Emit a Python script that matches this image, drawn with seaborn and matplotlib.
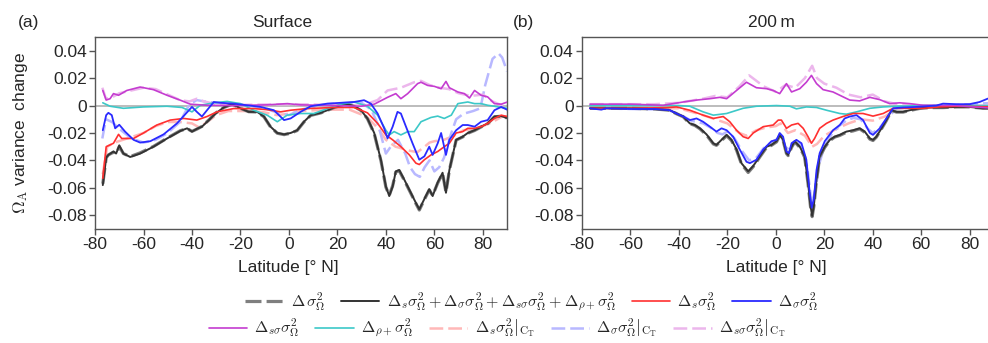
import matplotlib
matplotlib.use("Agg")
import matplotlib.pyplot as plt
import seaborn as sns

# ---------------- Panel (a): Surface ----------------
a_lat_sum = [-76.8, -75.4, -74.5, -72.4, -71.3, -70, -68.3, -65.5, -61.4, -55.9, -50.3, -44.8, -42, -40, -38, -35.9, -33, -30.3, -26.9, -23.4, -20, -16.6, -13.1, -10.3, -7.6, -4.8, -2, 0.7, 3.4, 6.2, 9, 13.1, 15.9, 18.6, 21.4, 24.1, 26.9, 29.7, 32.4, 35.2, 38, 40, 41.4, 42.8, 44.1, 45.5, 47.6, 50.3, 52.4, 53.8, 55.9, 57.9, 59.3, 61.4, 63.4, 64.8, 66.2, 69, 71.7, 73.8, 76.6, 79.3, 82, 84.8, 87.6, 90]
a_sum = [-0.058, -0.038, -0.036, -0.0335, -0.035, -0.029, -0.035, -0.0375, -0.035, -0.030, -0.024, -0.0185, -0.0166, -0.019, -0.017, -0.0154, -0.0106, -0.0058, -0.0014, 0.001, -0.002, -0.0046, -0.0046, -0.008, -0.0154, -0.020, -0.021, -0.020, -0.018, -0.0118, -0.007, -0.0053, -0.0034, -0.0014, 0.0002, 0.001, -0.0005, -0.0034, -0.0094, -0.020, -0.040, -0.059, -0.066, -0.059, -0.048, -0.047, -0.054, -0.0636, -0.071, -0.0757, -0.068, -0.061, -0.066, -0.056, -0.049, -0.0636, -0.047, -0.025, -0.0227, -0.020, -0.018, -0.0154, -0.013, -0.008, -0.0077, -0.009]
a_total = [-0.057, -0.038, -0.036, -0.034, -0.035, -0.030, -0.035, -0.0372, -0.0345, -0.0298, -0.0238, -0.0183, -0.0168, -0.0188, -0.0172, -0.0152, -0.0104, -0.0056, -0.0015, 0.001, -0.002, -0.0045, -0.0047, -0.0082, -0.0156, -0.0202, -0.0212, -0.0202, -0.0182, -0.0120, -0.0072, -0.0054, -0.0035, -0.0015, 0.0001, 0.0009, -0.0006, -0.0036, -0.0096, -0.0205, -0.0405, -0.0595, -0.0655, -0.0585, -0.0485, -0.0475, -0.0545, -0.064, -0.0715, -0.0762, -0.0685, -0.0615, -0.0655, -0.0565, -0.0495, -0.0632, -0.0472, -0.0252, -0.0229, -0.0202, -0.0182, -0.0156, -0.0132, -0.0082, -0.0078, -0.009]

a_lat_s = [-76.8, -75.4, -72.4, -70.3, -69, -64.1, -60, -54.5, -49, -43.4, -38, -33.8, -29.7, -22.8, -14.5, -9, -3.4, 0.7, 7.6, 18.6, 26.9, 32.4, 36.6, 40, 42.8, 46.2, 49.7, 52.4, 53.8, 55.9, 58.6, 61.4, 64.1, 66.2, 69, 71.7, 73.8, 76.6, 79.3, 82, 84.8, 87.6, 90]
a_s = [-0.053, -0.030, -0.0275, -0.021, -0.024, -0.024, -0.020, -0.0142, -0.0106, -0.0094, -0.0106, -0.008, -0.0046, -0.0022, -0.0022, -0.003, -0.0046, -0.0034, -0.0022, -0.0014, -0.0014, -0.0053, -0.013, -0.0214, -0.025, -0.030, -0.036, -0.042, -0.043, -0.0395, -0.036, -0.0335, -0.030, -0.0275, -0.020, -0.019, -0.0166, -0.0166, -0.0154, -0.013, -0.0094, -0.007, -0.008]

a_lat_sig = [-76.8, -75.4, -74.5, -73.1, -71.7, -70, -67.6, -64.1, -61.4, -57.2, -51.7, -46.2, -40, -38, -35.9, -33.8, -31, -28.3, -22.8, -17.2, -11.7, -6.2, -2, 0.7, 4.8, 9, 15.9, 21.4, 26.9, 31, 33.8, 36.6, 39.3, 40.7, 42.8, 44.8, 46.2, 48.3, 51, 53.8, 55.9, 57.9, 59.3, 61.4, 62.8, 64.8, 66.2, 69, 71.7, 73.8, 76.6, 79.3, 82, 84.8, 87.6, 90]
a_sig = [-0.018, -0.007, -0.0053, -0.007, -0.0166, -0.014, -0.019, -0.025, -0.027, -0.026, -0.021, -0.013, -0.001, -0.0046, -0.008, -0.0034, 0.0026, 0.002, 0.0014, 0.0002, -0.001, -0.0034, -0.0106, -0.0094, -0.0046, -0.0005, 0.0014, 0.002, 0.0026, 0.0039, 0.0014, -0.0058, -0.0166, -0.024, -0.0154, -0.0046, -0.0058, -0.0154, -0.0275, -0.0395, -0.037, -0.030, -0.036, -0.0275, -0.020, -0.036, -0.025, -0.018, -0.0142, -0.0142, -0.0154, -0.0118, -0.0106, -0.0034, -0.001, -0.003]

a_lat_ssig = [-76.8, -75.4, -73.8, -72.4, -70.3, -66.9, -61.4, -55.9, -50.3, -44.8, -40.7, -33.8, -22.8, -9, -0.7, 4.8, 18.6, 29.7, 35.2, 40.7, 44.1, 46.2, 49, 53.1, 54.5, 57.2, 60, 62.8, 64.8, 66.2, 69.7, 72.4, 74.5, 76.6, 79.3, 82, 84.8, 87.6, 90]
a_ssig = [0.011, 0.004, 0.005, 0.0087, 0.0075, 0.011, 0.0135, 0.0116, 0.0075, 0.0039, 0.001, 0.0002, 0.0, 0.0005, 0.0014, 0.0005, 0.0, -0.0005, 0.001, 0.006, 0.0087, 0.005, 0.0087, 0.016, 0.017, 0.0147, 0.014, 0.0123, 0.0176, 0.013, 0.0099, 0.0087, 0.0055, 0.011, 0.0075, 0.0063, 0.0014, 0.001, 0.0025]

a_lat_rho = [-76.8, -73.8, -68.3, -60, -50.3, -44.1, -40, -36.6, -31, -25.5, -20, -14.5, -9, -4.8, -0.7, 4.8, 10.3, 15.9, 21.4, 26.9, 32.4, 36.6, 40, 41.4, 43.4, 46.2, 49, 51.7, 54.5, 58.6, 61.4, 64.1, 67, 69.7, 73.8, 76.6, 79.3, 82, 84.8, 87.6, 90]
a_rho = [0.002, -0.0005, -0.002, -0.001, -0.0005, -0.0014, -0.0046, 0.0002, 0.002, 0.003, 0.0014, -0.0034, -0.007, -0.0118, -0.007, -0.0058, -0.0058, -0.0022, 0.001, 0.0026, -0.0005, -0.007, -0.018, -0.0214, -0.019, -0.0214, -0.019, -0.019, -0.0118, -0.0087, -0.0077, -0.0094, -0.007, 0.0014, 0.0026, 0.0014, 0.0014, 0.0002, -0.0005, -0.0014, -0.002]

a_lat_s_ct = [-76.8, -75, -72, -65, -60, -55, -50, -45, -40, -37, -33, -30, -25, -15, -10, -5, 0, 5, 15, 25, 32, 37, 40, 44, 48, 50, 53, 56, 58, 60, 64, 68, 72, 76, 80, 84, 88, 90]
a_s_ct = [-0.05, -0.03, -0.027, -0.023, -0.02, -0.015, -0.012, -0.012, -0.013, -0.016, -0.011, -0.007, -0.004, -0.004, -0.005, -0.007, -0.006, -0.004, -0.003, -0.003, -0.008, -0.017, -0.025, -0.030, -0.032, -0.033, -0.034, -0.030, -0.027, -0.026, -0.025, -0.022, -0.018, -0.017, -0.015, -0.012, -0.008, -0.008]

a_lat_sig_ct = [-77, -75.5, -73, -70, -65, -60, -55, -50, -45, -41, -38, -35, -30, -20, -10, -5, 0, 5, 15, 25, 30, 34, 37, 40, 42, 45, 48, 50, 52, 54, 56, 58, 60, 62, 64, 67, 69, 72, 76, 79, 81, 84, 86.5, 88, 90]
a_sig_ct = [-0.024, -0.01, -0.012, -0.017, -0.024, -0.027, -0.025, -0.02, -0.012, 0.001, 0.004, 0.003, 0.002, 0.001, -0.002, -0.005, -0.007, -0.003, 0.001, 0.002, 0.002, -0.003, -0.015, -0.035, -0.03, -0.025, -0.035, -0.045, -0.05, -0.052, -0.045, -0.04, -0.048, -0.045, -0.038, -0.02, -0.01, -0.006, -0.004, -0.002, 0.015, 0.034, 0.038, 0.035, 0.025]

a_lat_ssig_ct = [-77, -75.5, -73, -70, -65, -60, -55, -50, -45, -41, -38, -35, -30, -20, 0, 20, 30, 36.6, 40.7, 46.2, 51.7, 54.5, 58, 62, 66, 70, 75, 80, 84, 88, 90]
a_ssig_ct = [0.013, 0.005, 0.006, 0.009, 0.011, 0.013, 0.012, 0.008, 0.004, 0.003, 0.005, 0.003, 0.001, 0.0005, 0.001, 0.0005, 0.0, 0.004, 0.011, 0.013, 0.017, 0.018, 0.015, 0.013, 0.012, 0.009, 0.007, 0.008, 0.003, 0.0, -0.002]

# ---------------- Panel (b): 200 m ----------------
b_lat_sum = [-76.7, -70, -60, -50, -46.5, -43.7, -41, -38.2, -35.5, -33.4, -31.3, -28.6, -25.8, -24.5, -22.4, -20.3, -18.3, -16.2, -14.2, -11.4, -9.3, -6.6, -3.8, -1.8, 0.3, 1.6, 3, 4.4, 5.1, 6.5, 7.8, 9.9, 11.9, 13.3, 14.3, 15, 15.7, 16.8, 18.1, 20.2, 22.3, 24.3, 26.4, 29.1, 31.9, 34.6, 36.7, 38.8, 40.1, 41.5, 43.6, 45.6, 47.7, 49.8, 52.5, 55.3, 59.4, 63.5, 69, 74.5, 80, 85.5, 90]
b_sum = [-0.002, -0.002, -0.002, -0.0025, -0.003, -0.0034, -0.0058, -0.008, -0.013, -0.0142, -0.0166, -0.021, -0.0275, -0.0287, -0.025, -0.0214, -0.025, -0.032, -0.042, -0.048, -0.044, -0.037, -0.030, -0.0287, -0.026, -0.0214, -0.025, -0.0347, -0.036, -0.030, -0.026, -0.030, -0.037, -0.0564, -0.073, -0.0805, -0.073, -0.054, -0.037, -0.030, -0.025, -0.0227, -0.0214, -0.019, -0.018, -0.0166, -0.019, -0.024, -0.025, -0.0227, -0.0166, -0.0106, -0.0034, -0.0046, -0.0046, -0.0034, -0.002, -0.0014, -0.0014, -0.001, -0.001, -0.002, -0.002]
b_total = [-0.002, -0.002, -0.002, -0.0025, -0.003, -0.0035, -0.006, -0.0082, -0.0132, -0.0145, -0.017, -0.0215, -0.028, -0.029, -0.0255, -0.022, -0.0255, -0.0325, -0.0425, -0.0488, -0.0445, -0.0375, -0.0305, -0.029, -0.0265, -0.022, -0.0255, -0.035, -0.0365, -0.0305, -0.0265, -0.0305, -0.0375, -0.057, -0.0735, -0.081, -0.0735, -0.0545, -0.0375, -0.0305, -0.0255, -0.023, -0.0218, -0.0195, -0.0185, -0.017, -0.0195, -0.0245, -0.0255, -0.023, -0.017, -0.011, -0.0036, -0.0048, -0.0048, -0.0036, -0.0021, -0.0015, -0.0015, -0.001, -0.001, -0.002, -0.002]

b_lat_s = [-76.7, -60, -45, -41, -35.5, -30, -25.8, -21.7, -19, -16.2, -13.5, -11.4, -9.3, -5.2, -1.1, 1, 2.3, 4.4, 6.5, 9.2, 11.3, 13.3, 14.7, 16, 18.1, 20.9, 23.6, 27.7, 31.9, 36, 40.1, 44.3, 48.4, 53.9, 60.8, 67.6, 74.5, 90]
b_s = [-0.002, -0.002, -0.0015, -0.001, -0.0034, -0.007, -0.0094, -0.008, -0.0118, -0.018, -0.0227, -0.024, -0.020, -0.0154, -0.0142, -0.0106, -0.0106, -0.0166, -0.0142, -0.013, -0.0166, -0.0227, -0.0275, -0.024, -0.0166, -0.013, -0.0106, -0.008, -0.0058, -0.0058, -0.0077, -0.0058, -0.002, -0.002, -0.002, -0.001, -0.0005, -0.001]

b_lat_sig = [-76.7, -72, -70, -60, -50, -46.5, -43.7, -41, -38.2, -35.5, -32.7, -30, -27.2, -24.5, -22.4, -20.3, -17.6, -14.9, -12.1, -10.7, -8, -5.2, -1.8, 0.3, 1.6, 3, 4.4, 5.4, 6.5, 8.5, 10.6, 12.6, 14, 14.8, 15.7, 16.8, 18.1, 20.2, 23.6, 26.4, 28.4, 30.5, 33.3, 36, 38.8, 40.1, 42.9, 45.6, 48.4, 52.5, 58, 66.2, 69, 74.5, 80, 84.1, 87.4, 90]
b_sig = [-0.002, -0.003, -0.002, -0.0025, -0.0025, -0.003, -0.0034, -0.0058, -0.008, -0.0106, -0.0094, -0.0118, -0.0154, -0.019, -0.0166, -0.018, -0.0227, -0.032, -0.041, -0.042, -0.0395, -0.032, -0.026, -0.025, -0.020, -0.0227, -0.0335, -0.0347, -0.0275, -0.025, -0.0275, -0.0395, -0.0636, -0.0745, -0.068, -0.047, -0.0347, -0.026, -0.018, -0.0142, -0.0094, -0.008, -0.007, -0.0106, -0.020, -0.0214, -0.0166, -0.0094, -0.002, -0.0014, -0.001, 0.0, 0.0014, 0.001, 0.001, 0.0026, 0.005, 0.006]

b_lat_ssig = [-76.7, -60, -46.5, -38.2, -32.7, -27.2, -23.1, -20.3, -16.2, -12.1, -8, -3.8, -1.1, 1.6, 4.4, 6.5, 9.9, 12.6, 14.7, 16.8, 19.5, 23.6, 26.4, 30.5, 34.6, 38.8, 42.9, 47, 51.1, 55.3, 60.8, 74.5, 81.4, 90]
b_ssig = [0.001, 0.001, 0.0002, 0.0026, 0.004, 0.005, 0.006, 0.005, 0.011, 0.017, 0.013, 0.0123, 0.011, 0.0087, 0.016, 0.0099, 0.0123, 0.017, 0.022, 0.016, 0.0116, 0.0099, 0.0075, 0.004, 0.0034, 0.006, 0.0043, 0.0014, 0.002, 0.0014, 0.0002, 0.0, -0.001, -0.002]

b_lat_rho = [-76.7, -40, -35.5, -30, -25.8, -20.3, -13.5, -8, 0.3, 5.8, 8.5, 12.6, 16.8, 20.9, 26.4, 29.1, 33.3, 38.8, 44.3, 49.8, 60.8, 90]
b_rho = [0.0, 0.0, -0.0005, -0.0046, -0.007, -0.0058, -0.002, -0.0005, 0.0, -0.0005, -0.0024, -0.001, -0.0014, -0.0034, -0.0058, -0.0063, -0.0046, -0.002, -0.001, -0.0005, 0.0, 0.0]

b_lat_s_ct = [-76.7, -40, -30, -25, -20, -15, -12, -8, -4, 0, 2, 5, 8, 12, 15, 17, 20, 25, 30, 35, 40, 45, 50, 60, 90]
b_s_ct = [-0.002, -0.002, -0.007, -0.010, -0.013, -0.020, -0.022, -0.018, -0.016, -0.015, -0.013, -0.020, -0.018, -0.022, -0.030, -0.028, -0.022, -0.017, -0.013, -0.010, -0.011, -0.008, -0.002, -0.001, -0.001]

b_lat_sig_ct = [-76.7, -60, -45, -40, -35, -30, -27, -24, -22, -20, -17, -14, -11, -8, -5, -2, 0, 2, 4.5, 7, 10, 13, 14.8, 16.5, 18, 20, 23, 26, 29, 32, 35, 38, 40, 43, 46, 50, 60, 90]
b_sig_ct = [-0.002, -0.0025, -0.003, -0.006, -0.011, -0.013, -0.016, -0.020, -0.021, -0.019, -0.024, -0.033, -0.040, -0.038, -0.031, -0.027, -0.025, -0.022, -0.032, -0.027, -0.028, -0.045, -0.072, -0.060, -0.042, -0.030, -0.021, -0.015, -0.011, -0.009, -0.010, -0.017, -0.020, -0.016, -0.009, -0.002, -0.001, 0.002]

b_lat_ssig_ct = [-76.7, -50, -40, -30, -25, -20, -15, -11, -8, -5, 0, 4, 8, 12, 15, 17, 20, 25, 30, 35, 40, 45, 50, 60, 90]
b_ssig_ct = [0.001, 0.001, 0.002, 0.005, 0.007, 0.006, 0.014, 0.022, 0.018, 0.014, 0.010, 0.015, 0.013, 0.020, 0.029, 0.020, 0.016, 0.013, 0.008, 0.006, 0.008, 0.003, 0.001, 0.0, 0.0]

x_ticks = [-80, -60, -40, -20, 0, 20, 40, 60, 80]
x_tick_labels = ["-80", "-60", "-40", "-20", "0", "20", "40", "60", "80"]
y_ticks = [-0.08, -0.06, -0.04, -0.02, 0, 0.02, 0.04]
y_tick_labels = ["-0.08", "-0.06", "-0.04", "-0.02", "0", "0.02", "0.04"]

labels = {
    "total": r"$\Delta\,\sigma^2_\Omega$",
    "sum": r"$\Delta_s\sigma^2_\Omega + \Delta_\sigma\sigma^2_\Omega + \Delta_{s\sigma}\sigma^2_\Omega + \Delta_{\rho+}\sigma^2_\Omega$",
    "s": r"$\Delta_s\sigma^2_\Omega$",
    "sig": r"$\Delta_\sigma\sigma^2_\Omega$",
    "ssig": r"$\Delta_{s\sigma}\sigma^2_\Omega$",
    "rho": r"$\Delta_{\rho+}\sigma^2_\Omega$",
    "s_ct": r"$\left.\Delta_s\sigma^2_\Omega\right|_{\mathrm{C_T}}$",
    "sig_ct": r"$\left.\Delta_\sigma\sigma^2_\Omega\right|_{\mathrm{C_T}}$",
    "ssig_ct": r"$\left.\Delta_{s\sigma}\sigma^2_\Omega\right|_{\mathrm{C_T}}$",
}

sns.set_theme(style="white")
plt.rcParams["font.family"] = ["Liberation Sans", "DejaVu Sans"]
plt.rcParams["mathtext.fontset"] = "cm"
plt.rcParams["axes.unicode_minus"] = False

fig = plt.figure(figsize=(9.88, 3.43), dpi=100)
ax_a = fig.add_axes([0.0962, 0.3324, 0.417, 0.5598])
ax_b = fig.add_axes([0.589, 0.3324, 0.417, 0.5598])

styles = {
    "total": dict(color="#7f7f7f", lw=2.3, ls=(0, (5, 1.6)), z=3),
    "sum": dict(color="#333333", lw=1.4, ls="-", z=4),
    "s": dict(color="#ff3030", lw=1.2, ls="-", z=6),
    "sig": dict(color="#2a2aff", lw=1.3, ls="-", z=7),
    "ssig": dict(color="#c43cd0", lw=1.2, ls="-", z=6),
    "rho": dict(color="#3cc8c8", lw=1.2, ls="-", z=5),
    "s_ct": dict(color="#ffb8b8", lw=1.8, ls=(0, (5.5, 2)), z=2),
    "sig_ct": dict(color="#b8b8ff", lw=1.8, ls=(0, (5.5, 2)), z=2),
    "ssig_ct": dict(color="#ecb6ec", lw=1.8, ls=(0, (5.5, 2)), z=2),
}

panel_data = {
    "a": {
        "total": (a_lat_sum, a_total), "sum": (a_lat_sum, a_sum), "s": (a_lat_s, a_s),
        "sig": (a_lat_sig, a_sig), "ssig": (a_lat_ssig, a_ssig), "rho": (a_lat_rho, a_rho),
        "s_ct": (a_lat_s_ct, a_s_ct), "sig_ct": (a_lat_sig_ct, a_sig_ct), "ssig_ct": (a_lat_ssig_ct, a_ssig_ct),
    },
    "b": {
        "total": (b_lat_sum, b_total), "sum": (b_lat_sum, b_sum), "s": (b_lat_s, b_s),
        "sig": (b_lat_sig, b_sig), "ssig": (b_lat_ssig, b_ssig), "rho": (b_lat_rho, b_rho),
        "s_ct": (b_lat_s_ct, b_s_ct), "sig_ct": (b_lat_sig_ct, b_sig_ct), "ssig_ct": (b_lat_ssig_ct, b_ssig_ct),
    },
}

order = ["total", "sum", "s", "sig", "ssig", "rho", "s_ct", "sig_ct", "ssig_ct"]
handles = {}
for key, ax in (("a", ax_a), ("b", ax_b)):
    ax.axhline(0, color="#b0b0b0", lw=1.2, zorder=1)
    for name in order:
        xs, ys = panel_data[key][name]
        st = styles[name]
        sns.lineplot(x=xs, y=ys, ax=ax, color=st["color"], linewidth=st["lw"],
                     linestyle=st["ls"], zorder=st["z"], label=labels[name],
                     legend=False, estimator=None, sort=False)
        if key == "a":
            handles[name] = ax.get_lines()[-1]
    ax.set_xlim(-80, 90)
    ax.set_ylim(-0.09, 0.05)
    ax.set_xticks(x_ticks)
    ax.set_xticklabels(x_tick_labels, fontsize=12.5)
    ax.set_yticks(y_ticks)
    ax.set_yticklabels(y_tick_labels, fontsize=12.5)
    ax.set_xlabel("")
    ax.set_ylabel("")
    for sp in ax.spines.values():
        sp.set_color("#555555")
        sp.set_linewidth(1.0)
    ax.tick_params(axis="both", direction="out", length=4, width=1, color="#555555",
                   bottom=True, left=True, top=False, right=False, pad=2)

# titles, panel labels, axis labels
ax_a.text(0.454, 1.075, "Surface", transform=ax_a.transAxes, ha="center", va="center", fontsize=12.5)
ax_b.text(0.461, 1.075, "200\u2009m", transform=ax_b.transAxes, ha="center", va="center", fontsize=12.5)
fig.text(0.018, 0.935, "(a)", ha="left", va="center", fontsize=12.5)
fig.text(0.519, 0.935, "(b)", ha="left", va="center", fontsize=12.5)
ax_a.text(0.468, -0.2, "Latitude [\u00b0 N]", transform=ax_a.transAxes, ha="center", va="center", fontsize=12.5)
ax_b.text(0.473, -0.2, "Latitude [\u00b0 N]", transform=ax_b.transAxes, ha="center", va="center", fontsize=12.5)
fig.text(0.021, 0.612, r"$\Omega_\mathrm{A}$ variance  change", rotation=90, ha="center", va="center", fontsize=12.5)

row1 = ["total", "sum", "s", "sig"]
row2 = ["ssig", "rho", "s_ct", "sig_ct", "ssig_ct"]
common = dict(frameon=False, fontsize=11.5, handlelength=2.4, handletextpad=0.45,
              columnspacing=1.0, borderaxespad=0, borderpad=0)
fig.legend([handles[n] for n in row1], [labels[n] for n in row1], loc="center",
           bbox_to_anchor=(0.538, 0.118), ncol=len(row1), **common)
fig.legend([handles[n] for n in row2], [labels[n] for n in row2], loc="center",
           bbox_to_anchor=(0.503, 0.042), ncol=len(row2), **common)

fig.savefig("out.png", dpi=100)
